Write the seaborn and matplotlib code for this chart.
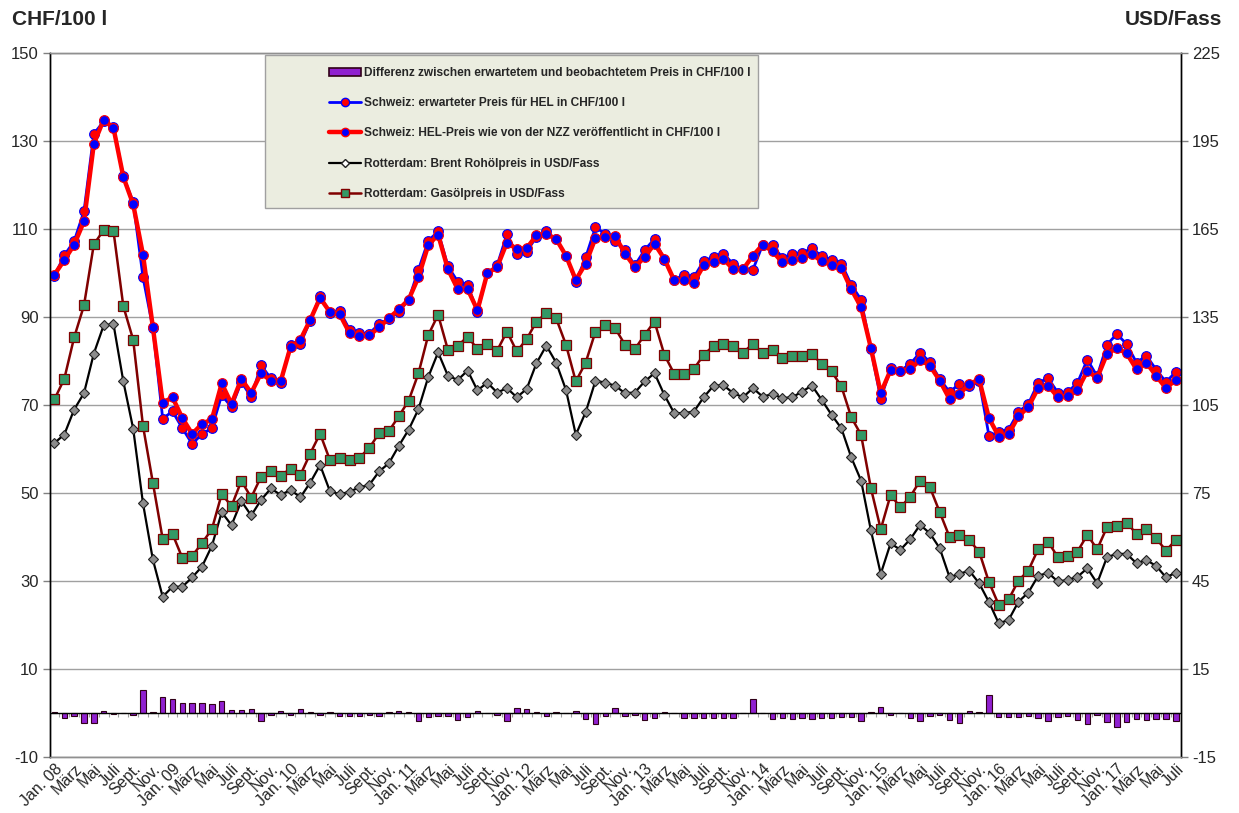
import numpy as np
import matplotlib
matplotlib.use("Agg")
import matplotlib.pyplot as plt
from matplotlib.patches import Rectangle
from matplotlib.lines import Line2D
import seaborn as sns

# monthly values, Jan. 2008 - Juli 2017
# Schweiz: HEL-Preis wie von der NZZ veroeffentlicht (CHF/100 l)
hel_nzz = [99.6, 102.9, 106.4, 111.7, 129.3, 134.8, 132.9, 121.8, 115.6, 104.1, 87.7, 70.5,
           71.7, 67.0, 63.4, 65.7, 66.7, 74.9, 70.2, 75.9, 72.7, 77.2, 75.5, 75.4,
           83.2, 84.8, 89.3, 94.3, 91.1, 90.6, 86.3, 85.6, 85.8, 87.6, 89.7, 91.7,
           93.9, 99.0, 106.3, 108.7, 100.8, 96.3, 96.3, 91.5, 99.9, 101.3, 106.9, 105.4,
           105.6, 108.5, 108.8, 107.7, 103.9, 98.4, 102.1, 107.9, 108.1, 108.3, 104.4, 101.3,
           103.6, 106.6, 103.2, 98.3, 98.4, 97.8, 101.7, 102.4, 103.2, 100.8, 100.8, 103.9,
           106.4, 104.9, 102.4, 102.9, 103.4, 104.3, 102.6, 101.8, 101.1, 96.3, 92.2, 82.9,
           72.7, 77.9, 77.8, 78.1, 80.2, 78.9, 75.5, 71.3, 72.5, 74.7, 75.8, 67.0,
           62.8, 63.4, 67.4, 69.5, 73.8, 74.4, 71.8, 72.1, 73.4, 77.7, 76.1, 81.6,
           82.9, 81.7, 78.1, 79.6, 76.6, 73.8, 75.7]

# Schweiz: erwarteter Preis fuer HEL (CHF/100 l)
hel_expected = [99.3, 104.0, 107.2, 114.0, 131.6, 134.4, 133.2, 121.9, 116.1, 99.0, 87.5, 66.9,
                68.5, 64.7, 61.1, 63.4, 64.7, 72.2, 69.5, 75.2, 71.8, 79.0, 76.0, 74.9,
                83.7, 83.9, 89.1, 94.8, 90.9, 91.3, 87.1, 86.3, 86.2, 88.4, 89.5, 91.2,
                93.8, 100.7, 107.3, 109.4, 101.5, 98.0, 97.3, 91.1, 100.0, 101.7, 108.8, 104.3,
                104.8, 108.2, 109.4, 107.6, 103.9, 97.9, 103.5, 110.4, 108.8, 107.2, 105.2, 101.7,
                105.2, 107.7, 102.9, 98.4, 99.6, 99.0, 102.7, 103.6, 104.4, 102.0, 100.8, 100.7,
                106.4, 106.3, 103.4, 104.3, 104.5, 105.6, 103.8, 103.0, 102.1, 97.3, 93.9, 82.6,
                71.4, 78.3, 77.8, 79.3, 81.9, 79.7, 75.9, 72.9, 74.8, 74.2, 75.5, 63.0,
                63.8, 64.4, 68.4, 70.2, 75.0, 76.1, 72.8, 72.9, 75.0, 80.3, 76.5, 83.7,
                86.1, 83.8, 79.6, 81.2, 78.0, 75.2, 77.5]

# Differenz zwischen erwartetem und beobachtetem Preis (CHF/100 l)
price_diff = [0.3, -1.05, -0.8, -2.35, -2.35, 0.45, -0.3, -0.1, -0.5, 5.15, 0.15, 3.6,
              3.2, 2.35, 2.3, 2.35, 2.05, 2.7, 0.7, 0.7, 0.9, -1.8, -0.5, 0.5,
              -0.5, 0.9, 0.2, -0.5, 0.2, -0.7, -0.8, -0.7, -0.4, -0.75, 0.15, 0.45,
              0.1, -1.75, -1.0, -0.7, -0.7, -1.7, -1.0, 0.4, -0.1, -0.45, -1.9, 1.1,
              0.8, 0.3, -0.6, 0.1, -0.1, 0.5, -1.4, -2.5, -0.75, 1.05, -0.75, -0.4,
              -1.6, -1.1, 0.3, -0.1, -1.2, -1.2, -1.05, -1.2, -1.2, -1.2, 0.05, 3.2,
              0.05, -1.45, -1.05, -1.45, -1.1, -1.3, -1.2, -1.2, -1.0, -1.0, -1.75, 0.3,
              1.3, -0.45, 0.05, -1.2, -1.75, -0.8, -0.45, -1.65, -2.3, 0.5, 0.3, 4.0,
              -1.0, -1.0, -1.0, -0.7, -1.2, -1.75, -1.0, -0.75, -1.65, -2.6, -0.45, -2.1,
              -3.25, -2.1, -1.5, -1.6, -1.35, -1.35, -1.8]

# Rotterdam: Brent Rohoelpreis (USD/Fass)
brent = [92.0, 94.9, 103.4, 109.0, 122.5, 132.1, 132.5, 113.0, 96.9, 71.4, 52.3, 39.6,
         43.0, 43.0, 46.2, 49.9, 56.9, 68.4, 64.0, 72.2, 67.3, 72.6, 76.5, 74.3,
         76.0, 73.5, 78.5, 84.5, 75.6, 74.5, 75.4, 76.9, 77.7, 82.3, 85.1, 91.0,
         96.5, 103.5, 114.5, 122.9, 114.9, 113.5, 116.7, 109.9, 112.6, 109.2, 110.7, 107.6,
         110.4, 119.2, 125.2, 119.4, 110.1, 94.8, 102.5, 113.2, 112.6, 111.5, 109.0, 109.2,
         113.0, 115.8, 108.4, 102.2, 102.2, 102.7, 107.6, 111.5, 111.7, 109.0, 107.6, 110.7,
         107.8, 108.7, 107.3, 107.6, 109.5, 111.6, 106.7, 101.6, 97.0, 87.1, 79.2, 62.2,
         47.4, 57.8, 55.6, 59.2, 64.1, 61.2, 56.1, 46.2, 47.4, 48.5, 44.2, 37.8,
         30.5, 31.7, 37.9, 41.0, 46.7, 47.8, 44.8, 45.3, 46.4, 49.3, 44.2, 53.1,
         54.2, 54.2, 51.0, 52.1, 50.1, 46.2, 47.8]

# Rotterdam: Gasoelpreis (USD/Fass)
gasoil = [106.9, 113.9, 128.0, 138.9, 159.7, 164.6, 164.2, 138.6, 127.2, 97.8, 78.5, 59.3,
          61.0, 52.8, 53.5, 57.9, 62.6, 74.6, 70.5, 79.1, 73.4, 80.5, 82.4, 80.8,
          83.3, 81.1, 88.4, 95.2, 86.2, 86.9, 86.2, 87.0, 90.3, 95.3, 96.1, 101.1,
          106.4, 115.7, 128.8, 135.7, 123.7, 125.1, 128.3, 124.0, 125.8, 123.5, 130.0, 123.2,
          127.4, 133.4, 136.2, 134.5, 125.5, 113.0, 119.4, 130.0, 132.3, 131.1, 125.5, 124.0,
          128.9, 133.4, 122.1, 115.6, 115.6, 117.2, 122.1, 125.1, 125.8, 124.9, 122.8, 125.8,
          122.6, 123.7, 120.9, 121.5, 121.8, 122.2, 119.0, 116.4, 111.3, 100.8, 94.8, 76.6,
          62.6, 74.3, 70.1, 73.7, 79.2, 76.9, 68.4, 59.9, 60.7, 58.8, 55.0, 44.6,
          36.8, 38.7, 45.1, 48.5, 55.8, 58.4, 53.1, 53.5, 55.0, 60.7, 55.8, 63.3,
          63.7, 64.9, 61.0, 62.6, 59.5, 55.3, 59.0]

month_names = ["Jan.", "März", "Mai", "Juli", "Sept.", "Nov."]
years = ["08", "09", "10", "11", "12", "13", "14", "15", "16", "17"]

series_labels = [
    "Differenz zwischen erwartetem und beobachtetem Preis in CHF/100 l",
    "Schweiz: erwarteter Preis für HEL in CHF/100 l",
    "Schweiz: HEL-Preis wie von der NZZ veröffentlicht in CHF/100 l",
    "Rotterdam: Brent Rohölpreis in USD/Fass",
    "Rotterdam: Gasölpreis in USD/Fass",
]

n = len(hel_nzz)
idx = np.arange(n)
tick_pos = idx[::2]
tick_labels = []
for k in tick_pos:
    name = month_names[(k % 12) // 2]
    if k % 12 == 0:
        name = name + " " + years[k // 12]
    tick_labels.append(name)

sns.set_style("white")
plt.rcParams["font.family"] = ["Liberation Sans", "DejaVu Sans"]
plt.rcParams["axes.unicode_minus"] = False

bar_face = "#9020D0"
bar_edge = "#300018"

fig = plt.figure(figsize=(12.39, 8.13), dpi=100)
ax = fig.add_axes([0.040, 0.069, 0.913, 0.866])

# difference bars
sns.barplot(x=idx, y=price_diff, native_scale=True, width=0.55, saturation=1,
            color=bar_face, edgecolor=bar_edge, linewidth=0.8, ax=ax, zorder=3)
ax.axhline(0, color="black", lw=1, zorder=4)
ax.vlines(idx - 0.5, -0.9, 0, color="#A0A0A0", lw=0.8, zorder=2)

# swiss prices
sns.lineplot(x=idx, y=hel_expected, ax=ax, color="#0000FF", lw=2,
             marker="o", ms=7, mfc="#FF0000", mec="#0000FF", mew=0.8, zorder=5)
sns.lineplot(x=idx, y=hel_nzz, ax=ax, color="#FF0000", lw=3.2,
             marker="o", ms=7, mfc="#0000FF", mec="#FF0000", mew=0.8, zorder=6)

ax.set_xlim(-0.5, n - 0.5)
ax.set_ylim(-10, 150)
ax.set_yticks(range(-10, 151, 20))
ax.yaxis.grid(True, color="#A0A0A0", lw=1)
ax.xaxis.grid(False)
ax.set_axisbelow(True)
ax.set_xlabel("")
ax.set_ylabel("")
ax.set_xticks(tick_pos)
ax.set_xticklabels(tick_labels, rotation=45, ha="right", rotation_mode="anchor")
ax.tick_params(axis="x", length=0, pad=3, labelsize=11.5)
ax.tick_params(axis="y", length=5, width=1, color="#808080", pad=3, labelsize=12, left=True)

# rotterdam prices on right axis
ax2 = ax.twinx()
sns.lineplot(x=idx, y=brent, ax=ax2, color="black", lw=1.6,
             marker="D", ms=5.2, mfc="#8C8C8C", mec="#202020", mew=0.8)
sns.lineplot(x=idx, y=gasoil, ax=ax2, color="#800000", lw=1.8,
             marker="s", ms=7, mfc="#339966", mec="#800000", mew=0.9)
ax2.set_ylim(-15, 225)
ax2.set_yticks(range(-15, 226, 30))
ax2.set_ylabel("")
ax2.tick_params(axis="y", length=5, width=1, color="#808080", pad=3, labelsize=12, right=True)
ax2.grid(False)

for a in (ax, ax2):
    a.spines["left"].set_color("black")
    a.spines["right"].set_color("black")
    a.spines["top"].set_color("#909090")
    a.spines["bottom"].set_color("#909090")
    for s in a.spines.values():
        s.set_linewidth(1)

# legend box
box = Rectangle((0.1905, 0.780), 0.4355, 0.217, transform=ax2.transAxes,
                facecolor="#EBEDE0", edgecolor="#A0A0A0", lw=1, zorder=10)
ax2.add_patch(box)
handles = [
    Rectangle((0, 0), 1, 1, facecolor=bar_face, edgecolor=bar_edge, lw=1.2),
    Line2D([], [], color="#0000FF", lw=2, marker="o", ms=6, mfc="#FF0000", mec="#0000FF"),
    Line2D([], [], color="#FF0000", lw=3.2, marker="o", ms=6, mfc="#0000FF", mec="#FF0000"),
    Line2D([], [], color="black", lw=1.6, marker="D", ms=4, mfc="#FFFFFF", mec="#202020"),
    Line2D([], [], color="#800000", lw=1.8, marker="s", ms=6, mfc="#339966", mec="#800000"),
]
leg = ax2.legend(handles, series_labels, loc="upper left", bbox_to_anchor=(0.247, 0.980),
                 frameon=False, prop={"size": 8.6, "weight": "bold"}, handlelength=2.7,
                 handleheight=0.6, handletextpad=0.2, labelspacing=1.53,
                 borderaxespad=0, borderpad=0)
leg.set_zorder(11)

fig.text(12 / 1239, 1 - 25 / 813, "CHF/100 l", fontsize=15, weight="bold", va="baseline")
fig.text(1222 / 1239, 1 - 25 / 813, "USD/Fass", fontsize=15, weight="bold",
         va="baseline", ha="right")

fig.savefig("out.png", dpi=100)
